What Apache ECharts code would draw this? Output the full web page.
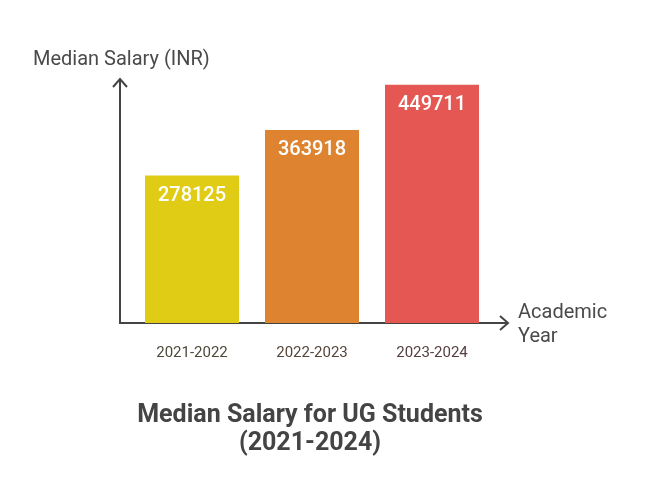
<!DOCTYPE html>
<html>
<head>
<meta charset="utf-8">
<script src="https://cdn.jsdelivr.net/npm/echarts@6/dist/echarts.min.js"></script>
<style>html,body{margin:0;padding:0;background:#fff}#c{width:648px;height:504px}</style>
</head>
<body>
<div id="c"></div>
<script>
const categories = ['2021-2022', '2022-2023', '2023-2024'];
const salaries = [278125, 363918, 449711];
const barColors = ['#E0CB15', '#DE8431', '#E55753'];
const labelColors = ['#4d4a38', '#54463b', '#553f3e'];

const chart = echarts.init(document.getElementById('c'), null, {renderer: 'canvas'});
const FONT = 'Roboto';
chart.setOption({
  animation: false,
  backgroundColor: '#ffffff',
  textStyle: {fontFamily: FONT},
  title: {
    text: 'Median Salary for UG Students\n(2021-2024)',
    left: 305,
    top: 397,
    textAlign: 'center',
    textStyle: {fontFamily: FONT, fontSize: 25, fontWeight: 'bold', color: '#444444', lineHeight: 28}
  },
  grid: {left: 132, right: 156, top: 58, bottom: 181},
  xAxis: {
    type: 'category',
    data: categories,
    axisLine: {show: false},
    axisTick: {show: false},
    axisLabel: {
      margin: 23,
      fontSize: 15,
      fontFamily: FONT,
      color: function (v, i) { return labelColors[i]; }
    }
  },
  yAxis: {type: 'value', min: 0, max: 500000, show: false},
  series: [{
    type: 'bar',
    barWidth: 94,
    data: salaries.map((v, i) => ({value: v, itemStyle: {color: barColors[i]}})),
    label: {
      show: true,
      position: 'insideTop',
      distance: 10,
      color: '#ffffff',
      fontFamily: FONT,
      fontSize: 20,
      fontWeight: 500
    }
  }],
  graphic: [
    {type: 'polyline', shape: {points: [[120, 80], [120, 323], [507, 323]]}, style: {stroke: '#444444', lineWidth: 2, fill: null}},
    {type: 'polyline', shape: {points: [[113, 87], [120, 79], [127, 87]]}, style: {stroke: '#444444', lineWidth: 2, fill: null}},
    {type: 'polyline', shape: {points: [[500, 316], [508, 323], [500, 330]]}, style: {stroke: '#444444', lineWidth: 2, fill: null}},
    {type: 'text', left: 33, top: 50, style: {text: 'Median Salary (INR)', fontFamily: FONT, fontSize: 20, fill: '#4a4a4a'}},
    {type: 'text', left: 518, top: 301, style: {text: 'Academic\nYear', fontFamily: FONT, fontSize: 20, lineHeight: 24, fill: '#4a4a4a'}}
  ]
});
</script>
</body>
</html>
